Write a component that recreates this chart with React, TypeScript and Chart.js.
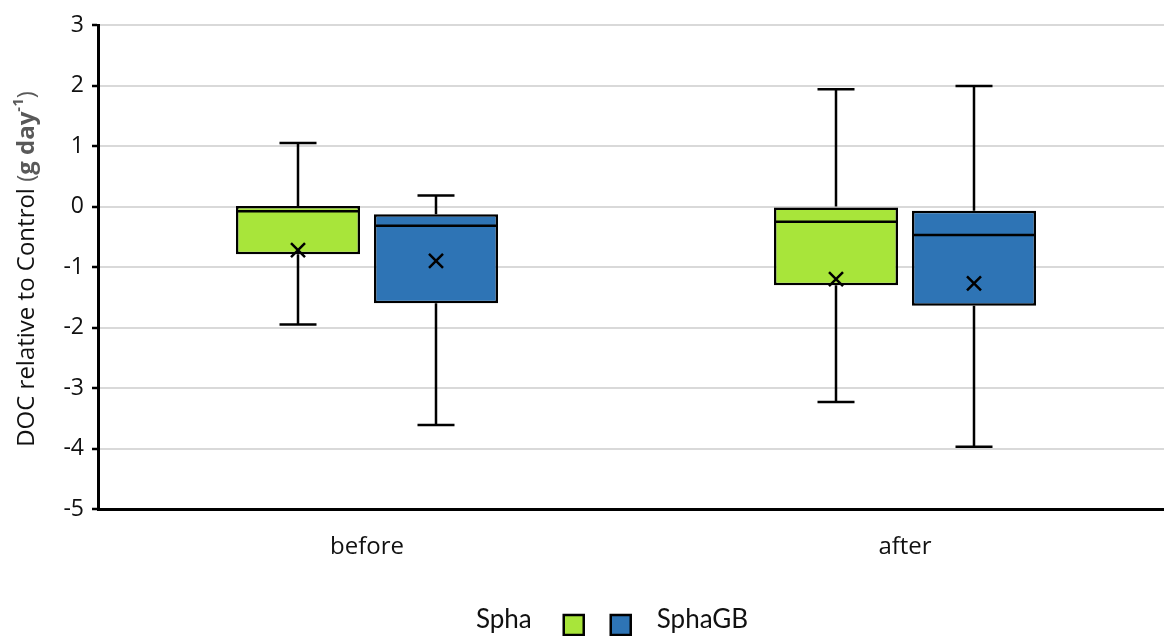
import React, { useEffect, useRef } from "react";
import { Chart, registerables } from "chart.js";

Chart.register(...registerables);

const categories = ["before", "after"];
const seriesNames = ["Spha", "SphaGB"];
const seriesColors = ["#a8e53a", "#2e74b5"];

const sphaMin = [-1.95, -3.23];
const sphaQ1 = [-0.79, -1.3];
const sphaMedian = [-0.08, -0.25];
const sphaQ3 = [0.01, 0.0];
const sphaMax = [1.05, 1.94];
const sphaMean = [-0.72, -1.2];

const gbMin = [-3.61, -3.97];
const gbQ1 = [-1.6, -1.64];
const gbMedian = [-0.32, -0.47];
const gbQ3 = [-0.13, -0.07];
const gbMax = [0.18, 1.99];
const gbMean = [-0.9, -1.27];

const yTicks = [3, 2, 1, 0, -1, -2, -3, -4, -5];

const stats = [
  { min: sphaMin, q1: sphaQ1, median: sphaMedian, q3: sphaQ3, max: sphaMax, mean: sphaMean },
  { min: gbMin, q1: gbQ1, median: gbMedian, q3: gbQ3, max: gbMax, mean: gbMean },
];

const TICK_FONT = "'Open Sans', sans-serif";

const boxPlugin = {
  id: "boxExtras",
  afterDatasetsDraw(chart: any) {
    const ctx = chart.ctx;
    const y = chart.scales.y;
    ctx.save();
    ctx.strokeStyle = "#000";
    stats.forEach((s, di) => {
      const meta = chart.getDatasetMeta(di);
      meta.data.forEach((el: any, i: number) => {
        const x = el.x;
        const half = el.width / 2;
        const pMin = y.getPixelForValue(s.min[i]);
        const pMax = y.getPixelForValue(s.max[i]);
        const pQ1 = y.getPixelForValue(s.q1[i]);
        const pQ3 = y.getPixelForValue(s.q3[i]);
        const pMed = y.getPixelForValue(s.median[i]);
        const pMean = y.getPixelForValue(s.mean[i]);
        ctx.lineWidth = 2.5;
        ctx.beginPath();
        ctx.moveTo(x, pQ3);
        ctx.lineTo(x, pMax);
        ctx.moveTo(x, pQ1);
        ctx.lineTo(x, pMin);
        ctx.moveTo(x - 18.5, pMax);
        ctx.lineTo(x + 18.5, pMax);
        ctx.moveTo(x - 18.5, pMin);
        ctx.lineTo(x + 18.5, pMin);
        ctx.stroke();
        ctx.beginPath();
        ctx.moveTo(x - half + 1, pMed);
        ctx.lineTo(x + half - 1, pMed);
        ctx.stroke();
        const a = 7;
        ctx.beginPath();
        ctx.moveTo(x - a, pMean - a);
        ctx.lineTo(x + a, pMean + a);
        ctx.moveTo(x + a, pMean - a);
        ctx.lineTo(x - a, pMean + a);
        ctx.stroke();
      });
    });
    ctx.restore();
  },
  afterDraw(chart: any) {
    const ctx = chart.ctx;
    const area = chart.chartArea;
    // y-axis title
    ctx.save();
    const cy = (area.top + area.bottom) / 2;
    ctx.translate(27, cy + 2);
    ctx.rotate(-Math.PI / 2);
    ctx.textBaseline = "middle";
    const segs = [
      { t: "DOC relative to Control ", f: `normal 24px ${TICK_FONT}`, c: "#111", dy: 0 },
      { t: "(", f: `normal 24px ${TICK_FONT}`, c: "#595959", dy: 0 },
      { t: "g day", f: `bold 24px ${TICK_FONT}`, c: "#595959", dy: 0 },
      { t: "-1", f: `bold 15px ${TICK_FONT}`, c: "#595959", dy: -8 },
      { t: ")", f: `normal 24px ${TICK_FONT}`, c: "#595959", dy: 0 },
    ];
    let total = 0;
    segs.forEach((s) => {
      ctx.font = s.f;
      total += ctx.measureText(s.t).width;
    });
    let x = -total / 2;
    segs.forEach((s) => {
      ctx.font = s.f;
      ctx.fillStyle = s.c;
      ctx.textAlign = "left";
      ctx.fillText(s.t, x, s.dy);
      x += ctx.measureText(s.t).width;
    });
    ctx.restore();

    // legend: "Spha [box] [box] SphaGB"
    ctx.save();
    const ly = 620;
    const by = 625;
    ctx.font = `26px Lato, sans-serif`;
    ctx.textBaseline = "middle";
    ctx.fillStyle = "#111";
    const w1 = ctx.measureText(seriesNames[0]).width;
    const w2 = ctx.measureText(seriesNames[1]).width;
    const box = 20;
    const total2 = w1 + 32 + box + 27 + box + 26 + w2;
    let lx = 612 - total2 / 2;
    ctx.textAlign = "left";
    ctx.fillText(seriesNames[0], lx, ly);
    lx += w1 + 32;
    ctx.lineWidth = 2.5;
    ctx.strokeStyle = "#000";
    ctx.fillStyle = seriesColors[0];
    ctx.fillRect(lx, by - box / 2, box, box);
    ctx.strokeRect(lx, by - box / 2, box, box);
    lx += box + 27;
    ctx.fillStyle = seriesColors[1];
    ctx.fillRect(lx, by - box / 2, box, box);
    ctx.strokeRect(lx, by - box / 2, box, box);
    lx += box + 26;
    ctx.fillStyle = "#111";
    ctx.fillText(seriesNames[1], lx, ly);
    ctx.restore();
  },
};

export default function App() {
  const ref = useRef<HTMLCanvasElement | null>(null);
  useEffect(() => {
    if (!ref.current) return;
    const chart = new Chart(ref.current, {
      type: "bar",
      data: {
        labels: categories,
        datasets: stats.map((s, i) => ({
          label: seriesNames[i],
          data: s.q1.map((q, j) => [q, s.q3[j]]),
          backgroundColor: seriesColors[i],
          borderColor: "#000",
          borderWidth: 2.5,
          borderSkipped: false,
          categoryPercentage: 0.513,
          barPercentage: 0.899,
        })) as any,
      },
      options: {
        animation: false,
        responsive: false,
        layout: { padding: { top: 25, left: 0, right: 0, bottom: 0 } },
        plugins: { legend: { display: false }, tooltip: { enabled: false } },
        scales: {
          x: {
            grid: { display: false, drawTicks: false },
            border: { color: "#000", width: 3 },
            ticks: { color: "#111", font: { family: TICK_FONT, size: 24 }, padding: 24 },
            afterFit: (scale: any) => {
              scale.height = 127;
            },
          },
          y: {
            min: -5,
            max: 3,
            afterBuildTicks: (scale: any) => {
              scale.ticks = yTicks.map((v) => ({ value: v }));
            },
            grid: { color: "#d9d9d9", lineWidth: 2, tickColor: "#000", tickLength: 6, tickWidth: 2.5 },
            border: { color: "#000", width: 3 },
            ticks: { color: "#111", font: { family: TICK_FONT, size: 23 }, padding: 8 },
            afterFit: (scale: any) => {
              scale.width = 98;
            },
          },
        },
      },
      plugins: [boxPlugin],
    });
    return () => chart.destroy();
  }, []);
  return (
    <div style={{ position: "fixed", left: 0, top: 0, width: 1164, height: 636, overflow: "hidden", background: "#fff" }}>
      <canvas ref={ref} width={1174} height={636} style={{ width: 1174, height: 636, display: "block" }} />
    </div>
  );
}
